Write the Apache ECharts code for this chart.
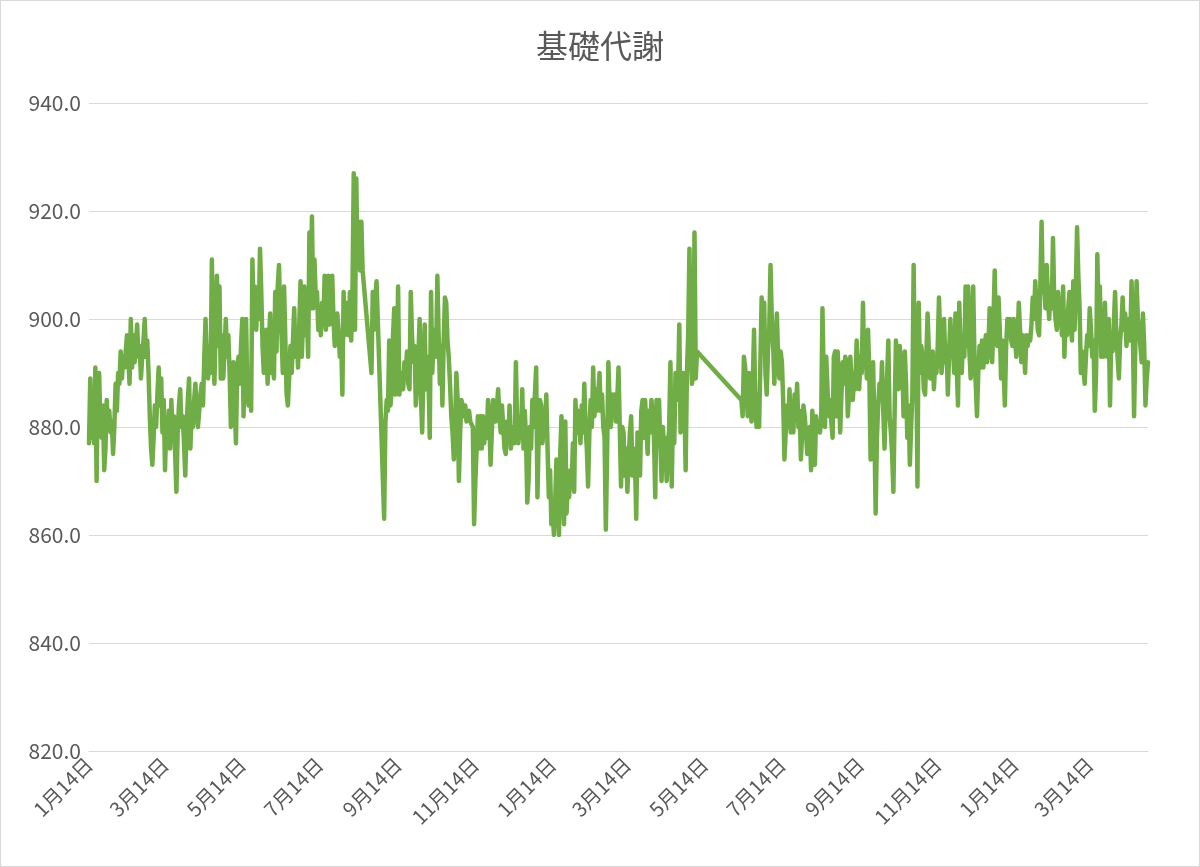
<!DOCTYPE html>
<html><head><meta charset="utf-8">
<script src="https://cdn.jsdelivr.net/npm/echarts/dist/echarts.min.js"></script>
<style>html,body{margin:0;padding:0;background:#fff}#c{width:1200px;height:867px;box-sizing:border-box;border:1px solid #d9d9d9}</style>
</head><body><div id="c"></div>
<script>
const chartTitle = '基礎代謝';
const startDate = [2020, 1, 14];
// daily values, days 0-279
const values1 = [
877,889,878,884,877,891,870,889,890,880,
878,884,872,876,885,880,883,879,881,875,
880,888,883,890,888,894,889,893,891,894,
897,893,888,900,891,897,892,895,899,893,
895,889,893,896,900,893,896,890,882,876,
873,878,884,880,886,891,884,889,879,885,
872,880,877,883,876,885,879,882,875,868,
879,884,887,880,882,877,871,880,885,889,
876,882,880,885,888,883,880,883,886,888,
884,893,900,892,889,895,890,911,896,888,
899,908,895,906,889,897,889,894,900,893,
897,890,880,888,892,885,877,891,893,888,
895,900,882,893,900,886,884,889,883,911,
901,906,898,904,900,913,905,895,890,896,
898,888,895,901,890,893,889,905,894,906,
910,900,897,890,906,896,886,884,889,895,
890,896,902,893,898,891,899,907,893,900,
906,897,901,893,916,902,919,902,911,904,
905,898,900,897,903,899,908,898,901,908,
899,902,908,900,895,898,901,898,893,897,
886,905,897,903,900,897,905,896,905,927,
898,926,910,918,909,918,909,null,null,null,
null,null,null,890,905,898,904,907,null,null,
null,null,null,863,881,885,883,896,884,887,
897,902,886,889,906,886,890,888,887,892,
890,894,888,887,905,897,892,895,884,889,
893,900,886,879,890,899,887,893,889,878,
905,890,896,898,893,908,897,888,895,884
];
// days 280-559
const values2 = [
896,904,903,896,893,888,882,879,874,880,
890,885,870,879,885,884,882,884,881,882,
883,881,null,880,862,870,876,882,876,882,
876,882,877,880,878,885,881,873,879,885,
884,881,884,887,882,879,884,880,876,875,
881,877,884,876,879,880,877,892,880,877,
882,878,887,876,883,878,866,870,880,876,
885,880,886,891,867,878,885,884,877,881,
879,886,876,867,872,862,865,860,866,874,
868,860,875,882,870,862,881,864,870,867,
872,869,877,868,885,879,883,880,877,884,
879,888,880,876,869,879,885,880,891,882,
887,883,886,890,883,886,880,878,861,875,
892,884,880,886,883,886,881,885,891,880,
869,880,879,871,876,868,874,879,882,871,
876,874,863,879,876,871,883,885,878,885,
880,875,883,879,885,882,878,867,885,879,
885,877,870,880,876,878,870,875,880,892,
869,882,877,890,885,887,899,879,886,890,
885,872,890,897,913,895,888,890,916,889,
894,null,null,null,null,null,null,null,null,null,
null,null,null,null,null,null,null,null,null,null,
null,null,null,null,null,null,null,null,null,null,
null,null,null,null,null,885,882,893,891,887,
882,890,885,881,888,898,884,880,886,880,
892,904,897,903,890,886,894,898,910,900,
896,888,894,901,893,889,894,892,885,874,
879,884,880,887,879,882,879,886,883,888
];
// days 560-836
const values3 = [
880,883,874,879,884,882,879,875,878,880,
872,883,879,873,882,880,881,879,881,902,
889,880,893,887,882,885,881,878,893,894,
882,894,888,879,886,892,888,893,892,882,
886,893,889,885,890,887,896,891,887,893,
890,903,891,895,889,898,890,874,885,892,
880,864,878,884,888,885,892,883,876,885,
889,896,882,879,875,868,883,896,893,887,
895,891,893,882,894,888,878,884,873,880,
886,910,889,895,869,903,890,895,893,887,
886,893,901,894,889,891,894,887,892,890,
895,904,896,890,893,900,892,895,886,894,
900,893,895,890,901,891,884,903,895,890,
897,893,906,895,906,894,889,898,906,893,
888,882,890,895,891,896,891,894,897,892,
895,902,897,892,900,909,897,895,904,898,
889,896,891,884,895,900,897,900,896,895,
900,897,893,896,903,898,892,897,895,890,
897,895,897,896,899,904,900,907,902,898,
897,906,918,905,908,902,910,904,900,906,
902,915,903,900,898,905,900,903,897,906,
893,900,897,902,905,899,896,907,898,905,
917,908,902,890,894,891,888,893,897,895,
902,898,893,896,883,890,912,901,906,893,
897,893,903,895,893,900,884,897,894,899,
905,897,893,889,896,899,904,898,901,895,
899,900,896,907,898,882,895,907,900,898,
895,892,901,895,884,889,892
];
const tickMonths = [1, 3, 5, 7, 9, 11];
const tickDay = 14;
const yMin = 820, yMax = 940, yStep = 20;

const values = values1.concat(values2, values3);
const base = Date.UTC(startDate[0], startDate[1] - 1, startDate[2]);
const dates = values.map(function (_, i) {
  const d = new Date(base + i * 86400000);
  return d.getUTCFullYear() + '-' + (d.getUTCMonth() + 1) + '-' + d.getUTCDate();
});

const font = '"Noto Sans CJK JP", "Noto Sans", sans-serif';
const chart = echarts.init(document.getElementById('c'));
chart.setOption({
  animation: false,
  backgroundColor: '#ffffff',
  title: {
    text: chartTitle, left: 'center', top: 24,
    textStyle: { color: '#595959', fontSize: 32, fontWeight: 'normal', fontFamily: font }
  },
  grid: { left: 88, right: 51, top: 102, bottom: 115 },
  xAxis: {
    type: 'category', data: dates, boundaryGap: false,
    axisLine: { lineStyle: { color: '#d9d9d9', width: 1 } },
    axisTick: { show: false },
    splitLine: { show: false },
    axisLabel: {
      rotate: 45, margin: 10, color: '#595959', fontSize: 20, fontFamily: font,
      interval: function (idx, val) {
        const p = val.split('-').map(Number);
        return p[2] === tickDay && tickMonths.indexOf(p[1]) >= 0;
      },
      formatter: function (val) {
        const p = val.split('-').map(Number);
        return p[1] + '月' + p[2] + '日';
      }
    }
  },
  yAxis: {
    type: 'value', min: yMin, max: yMax, interval: yStep,
    axisLine: { show: false }, axisTick: { show: false },
    splitLine: { lineStyle: { color: '#d9d9d9', width: 1 } },
    axisLabel: {
      color: '#595959', fontSize: 21, fontFamily: font, margin: 8,
      formatter: function (v) { return v.toFixed(1); }
    }
  },
  series: [{
    type: 'line', data: values, showSymbol: false, connectNulls: true,
    lineStyle: { color: '#70AD47', width: 4.5, join: 'round', cap: 'round' },
    itemStyle: { color: '#70AD47' }
  }]
});
</script>
</body></html>
